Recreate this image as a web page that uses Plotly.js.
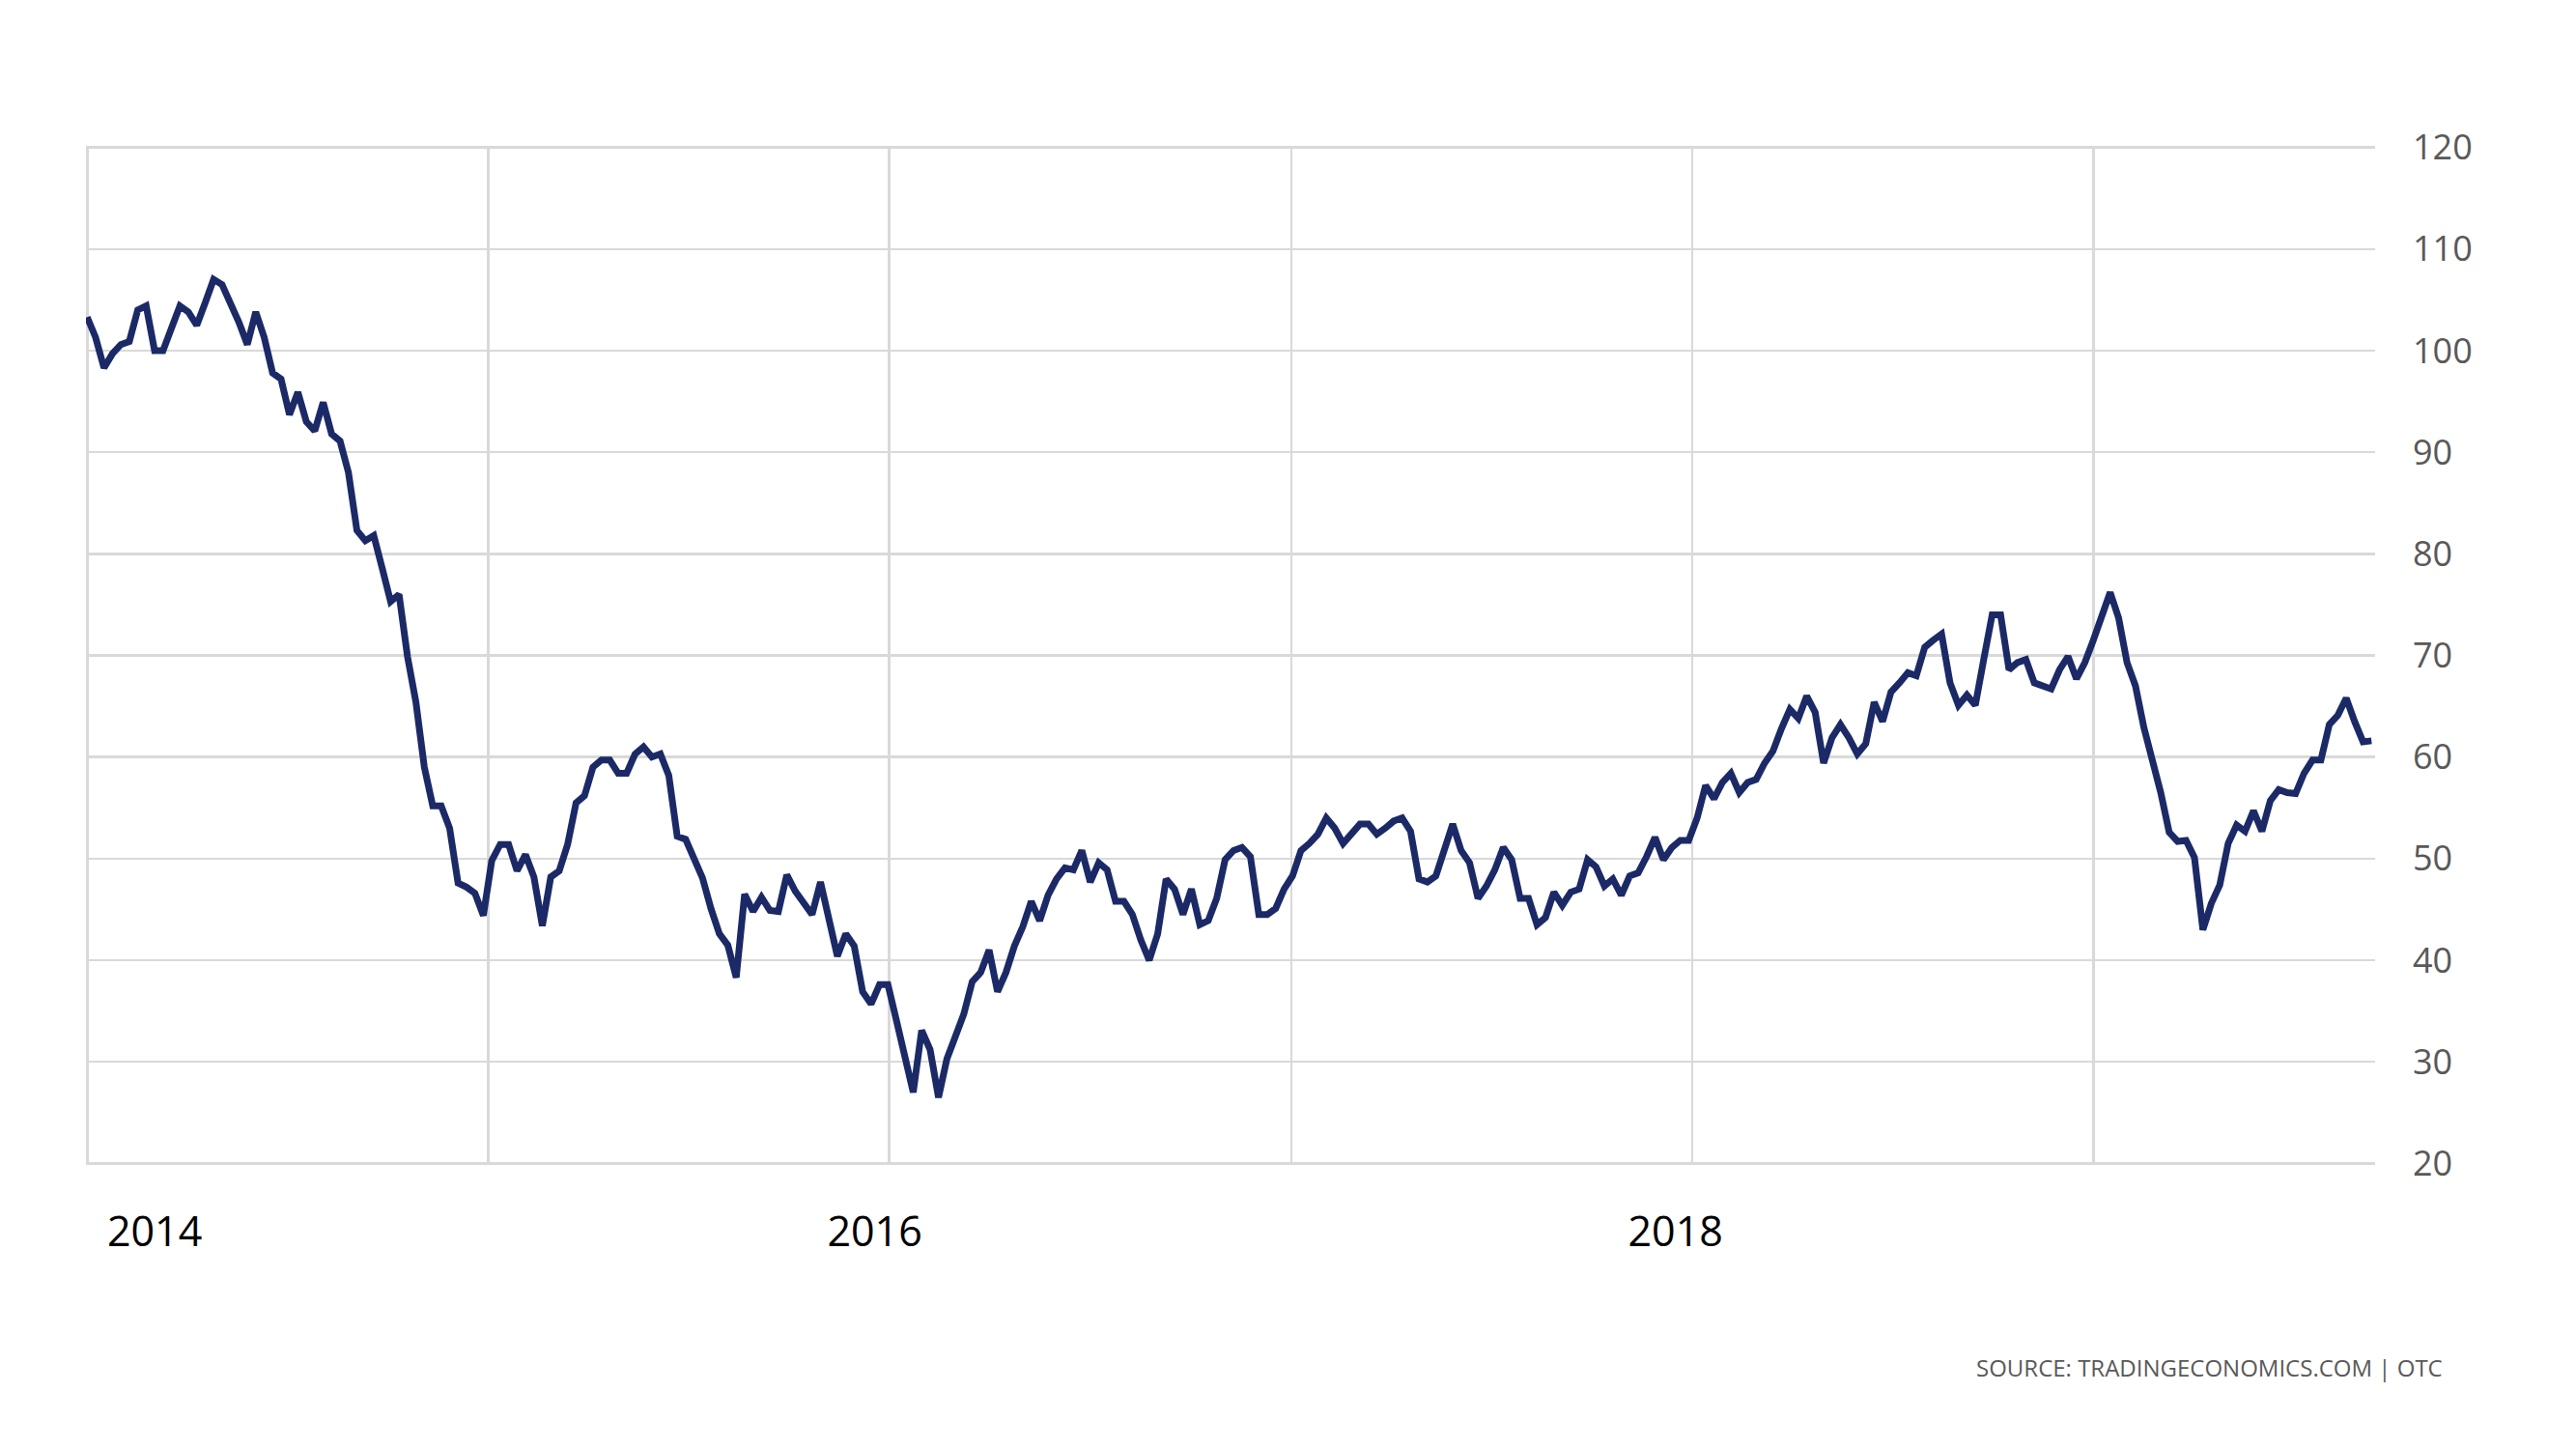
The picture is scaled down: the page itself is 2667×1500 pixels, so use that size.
<!DOCTYPE html>
<html lang="en">
<head>
    <meta charset="UTF-8">
    <title>Crude Oil</title>
    <script src="https://cdn.plot.ly/plotly-3.0.1.min.js"></script>
    <style>
        body { margin: 0; background: #fff; }
    </style>
</head>
<body>

<div id="chart"></div>

<script>
    // weekly closes, first one on startDate
    let startDate = '2014-03-03';
    let axisStart = '2014-03-02';
    let axisEnd = '2019-05-16';
    let prices = [
        103.3, 101.3, 98.3, 99.7, 100.6, 100.9, 104.0, 104.4, 100.0, 100.0,
        102.2, 104.4, 103.8, 102.5, 104.7, 107.0, 106.5, 104.7, 102.8, 100.6,
        103.8, 101.3, 97.8, 97.2, 93.7, 95.9, 93.0, 92.1, 94.9, 91.8,
        91.1, 88.0, 82.3, 81.3, 81.8, 78.6, 75.3, 76.0, 69.9, 65.4,
        59.0, 55.2, 55.2, 53.0, 47.6, 47.2, 46.6, 44.4, 49.8, 51.4,
        51.4, 48.8, 50.4, 48.2, 43.4, 48.2, 48.8, 51.4, 55.5, 56.2,
        59.0, 59.7, 59.7, 58.4, 58.4, 60.3, 61.0, 60.0, 60.3, 58.2,
        52.2, 51.9, 49.9, 48.1, 45.1, 42.6, 41.5, 38.3, 46.5, 44.8,
        46.2, 44.9, 44.8, 48.4, 46.8, 45.5, 44.5, 47.7, 43.9, 40.4,
        42.6, 41.4, 36.9, 35.7, 37.6, 37.6, 34.1, 30.6, 27.0, 33.1,
        31.2, 26.5, 30.3, 32.5, 34.7, 37.9, 38.8, 41.0, 36.9, 38.8,
        41.4, 43.3, 45.8, 43.9, 46.4, 48.0, 49.1, 48.9, 50.8, 47.7,
        49.6, 48.9, 45.8, 45.8, 44.5, 42.0, 40.0, 42.6, 48.0, 47.0,
        44.5, 47.0, 43.5, 43.9, 46.1, 49.9, 50.8, 51.1, 50.2, 44.5,
        44.5, 45.1, 47.0, 48.3, 50.8, 51.5, 52.4, 54.0, 53.0, 51.5,
        52.4, 53.4, 53.4, 52.4, 53.0, 53.7, 54.0, 52.7, 48.0, 47.7,
        48.3, 50.8, 53.4, 50.8, 49.6, 46.1, 47.3, 48.9, 51.1, 49.9,
        46.1, 46.1, 43.5, 44.2, 46.7, 45.4, 46.7, 47.0, 49.9, 49.2,
        47.3, 48.0, 46.4, 48.3, 48.6, 50.2, 52.1, 49.9, 51.1, 51.8,
        51.8, 54.0, 57.2, 55.9, 57.5, 58.4, 56.5, 57.5, 57.8, 59.4,
        60.6, 62.8, 64.7, 63.8, 66.0, 64.4, 59.4, 61.9, 63.2, 61.9,
        60.3, 61.3, 65.4, 63.5, 66.4, 67.3, 68.3, 68.0, 70.8, 71.5,
        72.1, 67.3, 65.1, 66.1, 65.1, 69.6, 74.0, 74.0, 68.6, 69.3,
        69.6, 67.3, 67.0, 66.7, 68.6, 69.9, 67.7, 69.3, 71.5, 74.0,
        76.2, 73.7, 69.3, 67.0, 62.9, 59.7, 56.5, 52.6, 51.7, 51.8,
        50.1, 43.0, 45.6, 47.4, 51.5, 53.3, 52.7, 54.7, 52.7, 55.7,
        56.8, 56.5, 56.4, 58.4, 59.7, 59.7, 63.2, 64.1, 65.8, 63.5,
        61.5, 61.6
    ];

    // vertical grid positions and year labels
    let gridDates = ['2014-03-03', '2015-01-30', '2015-12-29', '2016-11-27', '2017-10-26', '2018-09-24'];
    let yearDates = ['2014-04-28', '2015-12-17', '2017-10-12'];
    let yearLabels = ['2014', '2016', '2018'];
    let priceTicks = [20, 30, 40, 50, 60, 70, 80, 90, 100, 110, 120];

    let dates = [];
    let d0 = new Date(startDate + 'T00:00:00Z');
    for (let i = 0; i < prices.length; i++) {
        let d = new Date(d0.getTime() + i * 7 * 86400000);
        dates.push(d.toISOString().slice(0, 10));
    }

    let trace = {
        x: dates,
        y: prices,
        type: 'scatter',
        mode: 'lines',
        line: {color: '#1b2a66', width: 7},
        hoverinfo: 'skip',
        showlegend: false
    };

    let layout = {
        width: 2667,
        height: 1500,
        margin: {l: 89, r: 208, t: 151, b: 294},
        paper_bgcolor: '#ffffff',
        plot_bgcolor: '#ffffff',
        showlegend: false,
        xaxis: {
            type: 'date',
            range: [axisStart, axisEnd],
            tickmode: 'array',
            tickvals: gridDates,
            showticklabels: false,
            ticks: '',
            showgrid: true,
            gridcolor: '#d9d9d9',
            gridwidth: 2.5,
            zeroline: false,
            showline: false
        },
        xaxis2: {
            type: 'date',
            overlaying: 'x',
            anchor: 'y',
            side: 'bottom',
            range: [axisStart, axisEnd],
            tickmode: 'array',
            tickvals: yearDates,
            ticktext: yearLabels,
            ticks: '',
            showgrid: false,
            zeroline: false,
            showline: false,
            ticklabelstandoff: 40,
            tickfont: {family: 'Open Sans', size: 43, color: '#000000'}
        },
        yaxis: {
            side: 'right',
            range: [19.85, 120.15],
            tickmode: 'array',
            tickvals: priceTicks,
            ticks: '',
            showgrid: true,
            gridcolor: '#d9d9d9',
            gridwidth: 2.5,
            zeroline: false,
            showline: false,
            ticklabelstandoff: 38,
            tickfont: {family: 'Open Sans', size: 36, color: '#595959'}
        },
        annotations: [{
            text: 'SOURCE: TRADINGECONOMICS.COM | OTC',
            xref: 'paper', yref: 'paper',
            x: 1.0304, y: -0.1985,
            xanchor: 'right', yanchor: 'middle',
            showarrow: false,
            font: {family: 'Open Sans', size: 24, color: '#595959'}
        }]
    };

    let extra = {x: [], y: [], xaxis: 'x2', type: 'scatter', mode: 'lines', showlegend: false, hoverinfo: 'skip'};

    Plotly.newPlot('chart', [trace, extra], layout, {displayModeBar: false, staticPlot: true});
</script>

</body>
</html>
